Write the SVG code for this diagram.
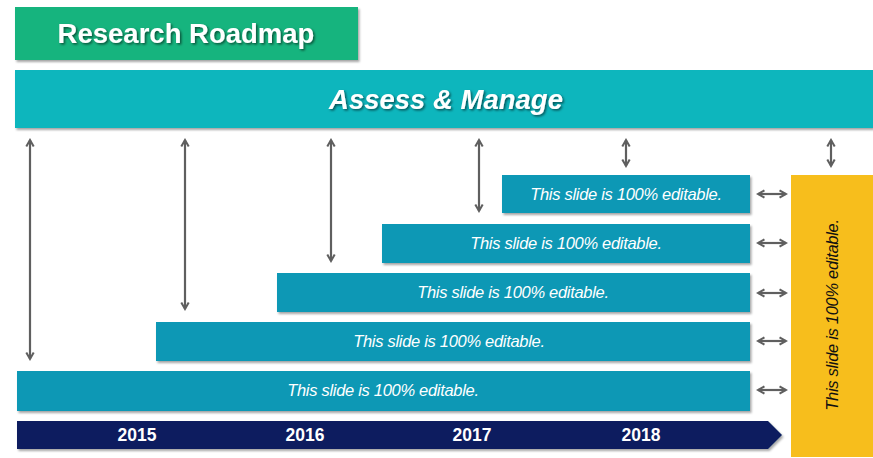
<svg xmlns="http://www.w3.org/2000/svg" width="873" height="458" viewBox="0 0 873 458">
<defs>
<filter id="box" x="-5%" y="-20%" width="110%" height="150%">
<feDropShadow dx="1.5" dy="2" stdDeviation="1" flood-color="#000" flood-opacity="0.35"/>
</filter>
<filter id="ts" x="-5%" y="-20%" width="110%" height="150%">
<feDropShadow dx="1.5" dy="1.5" stdDeviation="1" flood-color="#000" flood-opacity="0.55"/>
</filter>
<marker id="ah" viewBox="0 0 10 10" refX="8" refY="5" markerWidth="4.2" markerHeight="4.2" orient="auto-start-reverse" markerUnits="strokeWidth">
<path d="M1,1 L8,5 L1,9" fill="none" stroke="#5f5f5f" stroke-width="2.2" stroke-linejoin="miter"/>
</marker>
</defs>
<style>
.bar{fill:#0A98B5;filter:url(#box)}
.bt{font-family:"Liberation Sans",Arial,sans-serif;font-style:italic;font-size:16.5px;fill:#fff;text-anchor:middle;letter-spacing:-0.3px}
.yr{font-family:"Liberation Sans",Arial,sans-serif;font-weight:bold;font-size:17.5px;fill:#fff;text-anchor:middle}
.ar{stroke:#5f5f5f;stroke-width:2.2;fill:none;marker-start:url(#ah);marker-end:url(#ah)}
</style>
<rect width="873" height="458" fill="#fff"/>
<g id="title">
<rect x="15" y="7" width="343" height="53" fill="#14B47E" filter="url(#box)"/>
<text x="186" y="43" font-family="'Liberation Sans',Arial,sans-serif" font-weight="bold" font-size="27.5" fill="#fff" text-anchor="middle" filter="url(#ts)">Research Roadmap</text>
</g>
<g id="assess">
<rect x="15" y="70" width="858" height="58" fill="#0BB6BD" filter="url(#box)"/>
<text x="446" y="109" font-family="'Liberation Sans',Arial,sans-serif" font-weight="bold" font-style="italic" font-size="27.5" fill="#fff" text-anchor="middle" filter="url(#ts)">Assess &amp; Manage</text>
</g>
<g id="timeline">
<path d="M17,421 H768 L782,435 L768,449 H17 Z" fill="#0B1F5E" filter="url(#box)"/>
<text class="yr" x="137" y="441">2015</text>
<text class="yr" x="305" y="441">2016</text>
<text class="yr" x="472" y="441">2017</text>
<text class="yr" x="641" y="441">2018</text>
</g>
<g id="bar1"><rect class="bar" x="502" y="175" width="248" height="38"/><text class="bt" x="626" y="200">This slide is 100% editable.</text></g>
<g id="bar2"><rect class="bar" x="382" y="224" width="368" height="39"/><text class="bt" x="566" y="249">This slide is 100% editable.</text></g>
<g id="bar3"><rect class="bar" x="277" y="273" width="473" height="39"/><text class="bt" x="513" y="298">This slide is 100% editable.</text></g>
<g id="bar4"><rect class="bar" x="156" y="322" width="594" height="39"/><text class="bt" x="449" y="347">This slide is 100% editable.</text></g>
<g id="bar5"><rect class="bar" x="17" y="371" width="733" height="40"/><text class="bt" x="383" y="396">This slide is 100% editable.</text></g>
<g id="side">
<rect x="791" y="175" width="82" height="282" fill="#F7BE1C"/>
<text transform="translate(838,315) rotate(-90)" font-family="'Liberation Sans',Arial,sans-serif" font-style="italic" font-size="16.5" fill="#111" text-anchor="middle" letter-spacing="-0.3">This slide is 100% editable.</text>
</g>
<g id="connectors">
<line class="ar" x1="30" y1="140" x2="30" y2="359"/>
<line class="ar" x1="185" y1="140" x2="185" y2="309"/>
<line class="ar" x1="331" y1="140" x2="331" y2="261"/>
<line class="ar" x1="479" y1="140" x2="479" y2="211"/>
<line class="ar" x1="626" y1="140" x2="626" y2="166"/>
<line class="ar" x1="831" y1="140" x2="831" y2="166"/>
<line class="ar" x1="758" y1="194" x2="786" y2="194"/>
<line class="ar" x1="758" y1="243" x2="786" y2="243"/>
<line class="ar" x1="758" y1="293" x2="786" y2="293"/>
<line class="ar" x1="758" y1="341" x2="786" y2="341"/>
<line class="ar" x1="758" y1="390" x2="786" y2="390"/>
</g>
</svg>
